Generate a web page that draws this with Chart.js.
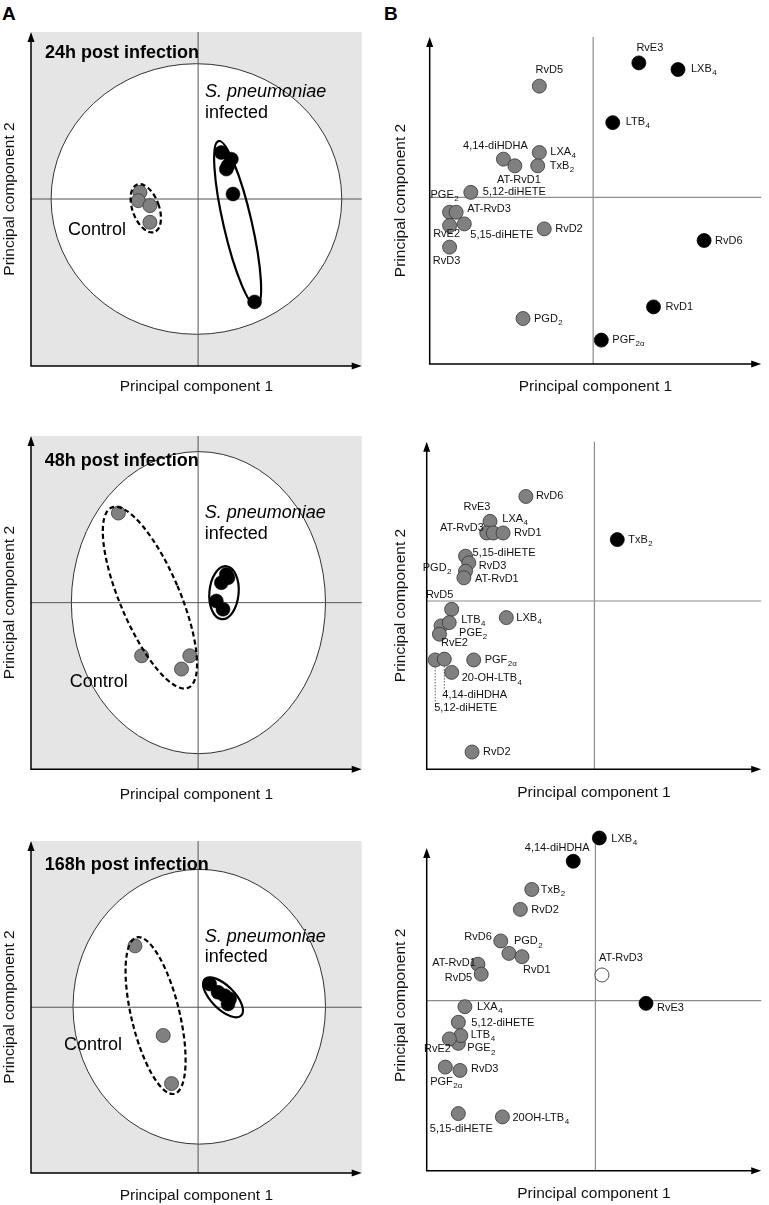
<!DOCTYPE html>
<html>
<head>
<meta charset="utf-8">
<title>PCA of lipid mediators after S. pneumoniae infection</title>
<script src="https://cdn.jsdelivr.net/npm/chart.js@4.4.1/dist/chart.umd.min.js"></script>
<style>
body{margin:0;background:#fff;}
#wrap{position:relative;width:769px;height:1205px;overflow:hidden;}
#wrap canvas{position:absolute;}
.tag{position:absolute;font:bold 19px "Liberation Sans",Arial,sans-serif;line-height:19px;color:#000;}
</style>
</head>
<body>
<div id="wrap">
<div class="tag" style="left:2px;top:4px">A</div>
<div class="tag" style="left:384px;top:4px">B</div>
<canvas id="a24" width="384" height="400" style="left:0;top:0"></canvas>
<canvas id="b24" width="385" height="400" style="left:384px;top:0"></canvas>
<canvas id="a48" width="384" height="410" style="left:0;top:400px"></canvas>
<canvas id="b48" width="385" height="410" style="left:384px;top:400px"></canvas>
<canvas id="a168" width="384" height="395" style="left:0;top:810px"></canvas>
<canvas id="b168" width="385" height="395" style="left:384px;top:810px"></canvas>
</div>
<script>
const FONT = '"Liberation Sans", Arial, Helvetica, sans-serif';

// ---- A: score plots, control vs infected mice ----
const a24CtrlX = [-0.35, -0.36, -0.29, -0.29];
const a24CtrlY = [0.04, -0.01, -0.04, -0.14];
const a24InfX = [0.14, 0.20, 0.18, 0.17, 0.21, 0.34];
const a24InfY = [0.28, 0.24, 0.20, 0.18, 0.03, -0.62];

const a48CtrlX = [-0.48, -0.34, -0.05, -0.10];
const a48CtrlY = [0.54, -0.32, -0.32, -0.40];
const a48InfX = [0.17, 0.18, 0.14, 0.11, 0.15];
const a48InfY = [0.17, 0.15, 0.12, 0.01, -0.04];

const a168CtrlX = [-0.38, -0.21, -0.16];
const a168CtrlY = [0.37, -0.17, -0.46];
const a168InfX = [0.07, 0.12, 0.16, 0.19, 0.18];
const a168InfY = [0.14, 0.09, 0.07, 0.05, 0.02];

// ---- B: loading plots of the mediators (grp 0 grey, 1 black, 2 open) ----
const b24Names = ['RvE3', 'LXB_4', 'RvD5', 'LTB_4', '4,14-diHDHA', 'AT-RvD1', 'LXA_4', 'TxB_2', '5,12-diHETE', 'PGE_2',
  'AT-RvD3', 'RvE2', '5,15-diHETE', 'RvD3', 'RvD2', 'RvD6', 'RvD1', 'PGD_2', 'PGF_2α'];
const b24X = [0.28, 0.52, -0.33, 0.12, -0.55, -0.48, -0.33, -0.34, -0.75, -0.88, -0.84, -0.88, -0.79, -0.88, -0.30, 0.68, 0.37, -0.43, 0.05];
const b24Y = [0.81, 0.77, 0.67, 0.45, 0.23, 0.19, 0.27, 0.19, 0.03, -0.09, -0.09, -0.17, -0.16, -0.30, -0.19, -0.26, -0.66, -0.73, -0.86];
const b24Grp = [1, 1, 0, 1, 0, 0, 0, 0, 0, 0, 0, 0, 0, 0, 0, 1, 1, 0, 1];

const b48Names = ['RvD6', 'RvE3', 'AT-RvD3', 'LXA_4', 'RvD1', 'TxB_2', '5,15-diHETE', 'RvD3', 'PGD_2', 'AT-RvD1',
  'RvD5', 'PGE_2', 'LTB_4', 'RvE2', 'LXB_4', '5,12-diHETE', '4,14-diHDHA', '20-OH-LTB_4', 'PGF_2α', 'RvD2'];
const b48X = [-0.42, -0.64, -0.66, -0.62, -0.56, 0.14, -0.79, -0.77, -0.79, -0.80, -0.875, -0.94, -0.89, -0.95, -0.54, -0.976, -0.92, -0.875, -0.74, -0.75];
const b48Y = [0.63, 0.48, 0.41, 0.41, 0.41, 0.37, 0.27, 0.23, 0.18, 0.14, -0.05, -0.15, -0.13, -0.20, -0.10, -0.355, -0.35, -0.43, -0.355, -0.91];
const b48Grp = [0, 0, 0, 0, 0, 1, 0, 0, 0, 0, 0, 0, 0, 0, 0, 0, 0, 0, 0, 0];

const b168Names = ['LXB_4', '4,14-diHDHA', 'TxB_2', 'RvD2', 'RvD6', 'PGD_2', 'RvD1', 'AT-RvD1', 'RvD5', 'AT-RvD3',
  'RvE3', 'LXA_4', '5,12-diHETE', 'PGE_2', 'LTB_4', 'RvE2', 'PGF_2α', 'RvD3', '5,15-diHETE', '20OH-LTB_4'];
const b168X = [0.024, -0.136, -0.39, -0.46, -0.58, -0.53, -0.45, -0.72, -0.70, 0.04, 0.31, -0.80, -0.84, -0.84, -0.825, -0.895, -0.92, -0.83, -0.84, -0.57];
const b168Y = [0.98, 0.84, 0.67, 0.55, 0.36, 0.285, 0.265, 0.22, 0.16, 0.155, -0.016, -0.036, -0.13, -0.257, -0.21, -0.23, -0.40, -0.42, -0.68, -0.70];
const b168Grp = [1, 1, 0, 0, 0, 0, 0, 0, 0, 2, 1, 0, 0, 0, 0, 0, 0, 0, 0, 0];

// label placement: [dx, dy, align, leader line]
const b24Lab = [[11,-15,'c'],[13,-1,'l'],[10,-16,'c'],[13,-1,'l'],[-8,-13,'c'],[4,14,'c'],[11,-1,'l'],[12,0,'l'],[12,0,'l'],[-5,-17,'c'],
  [11,-3,'l'],[-3,8,'c'],[6,11,'l'],[-3,14,'c'],[11,0,'l'],[11,0,'l'],[12,0,'l'],[11,0,'l'],[11,0,'l']];
const b48Lab = [[10,0,'l'],[-13,-14,'c'],[-3,-5,'r'],[9,-14,'l'],[11,0,'l'],[11,0,'l'],[7,-3,'l'],[10,3,'l'],[-14,-3,'r'],[11,1,'l'],
  [-12,-14,'c'],[18,7,'l'],[12,-3,'l'],[15,9,'c'],[10,0,'l'],[-1,48,'l',1],[-2,36,'l',1],[10,6,'l'],[11,0,'l'],[11,0,'l']];
const b168Lab = [[12,1,'l'],[-16,-13,'c'],[9,0,'l'],[11,1,'l'],[-9,-4,'r'],[5,-12,'l'],[1,13,'l'],[-2,-1,'r'],[-9,4,'r'],[19,-17,'c'],
  [11,5,'l'],[12,0,'l'],[13,1,'l'],[9,5,'l'],[10,-1,'l'],[-12,10,'c'],[1,15,'c'],[11,-1,'l'],[3,15,'c'],[10,1,'l']];

const GREY = '#808080';

function pts(xs, ys) {
  return xs.map((v, i) => ({x: v, y: ys[i]}));
}

function ellipsePath(ctx, sx, sy, e) {
  const px = sx.getPixelForValue(e.cx), py = sy.getPixelForValue(e.cy);
  const rx = Math.abs(sx.getPixelForValue(e.cx + e.rx) - px);
  const ry = Math.abs(sy.getPixelForValue(e.cy + e.ry) - py);
  ctx.beginPath();
  ctx.ellipse(px, py, rx, ry, (e.rot || 0) * Math.PI / 180, 0, Math.PI * 2);
}

function drawLabel(ctx, txt, x, y, align) {
  const parts = txt.split('_');
  const main = parts[0], sub = parts[1] || '';
  ctx.font = '11px ' + FONT;
  const w1 = ctx.measureText(main).width;
  ctx.font = '8px ' + FONT;
  const w2 = sub ? ctx.measureText(sub).width + 0.5 : 0;
  let x0 = x;
  if (align === 'c') x0 = x - (w1 + w2) / 2;
  if (align === 'r') x0 = x - w1 - w2;
  ctx.textAlign = 'left';
  ctx.textBaseline = 'middle';
  ctx.fillStyle = '#111';
  ctx.font = '11px ' + FONT;
  ctx.fillText(main, x0, y);
  if (sub) {
    ctx.font = '8px ' + FONT;
    ctx.fillText(sub, x0 + w1 + 0.5, y + 4);
  }
}

function figPlugin(cfg) {
  return {
    id: 'fig',
    beforeDatasetsDraw(chart) {
      const ctx = chart.ctx, a = chart.chartArea;
      const sx = chart.scales.x, sy = chart.scales.y;
      // arrow tip and crosshair top may sit below the chart area top
      const top = cfg.yTop !== undefined ? sy.getPixelForValue(cfg.yTop) : a.top;
      const crossTop = cfg.crossTop !== undefined ? sy.getPixelForValue(cfg.crossTop) : top;
      ctx.save();
      if (cfg.ring) {
        ctx.fillStyle = '#e5e5e5';
        ctx.fillRect(a.left, a.top, a.right - a.left, a.bottom - a.top);
        ellipsePath(ctx, sx, sy, cfg.ring);
        ctx.fillStyle = '#fff';
        ctx.fill();
        ctx.strokeStyle = '#333';
        ctx.lineWidth = 1;
        ctx.stroke();
      }
      const x0 = sx.getPixelForValue(0), y0 = sy.getPixelForValue(0);
      ctx.strokeStyle = cfg.cross;
      ctx.lineWidth = cfg.ring ? 1 : 1.2;
      ctx.beginPath();
      ctx.moveTo(x0, crossTop); ctx.lineTo(x0, a.bottom);
      ctx.moveTo(a.left, y0); ctx.lineTo(a.right, y0);
      ctx.stroke();
      // axes with arrow heads
      ctx.strokeStyle = '#000';
      ctx.fillStyle = '#000';
      ctx.lineWidth = 1.5;
      ctx.beginPath();
      ctx.moveTo(a.left, top + 8);
      ctx.lineTo(a.left, a.bottom);
      ctx.lineTo(a.right - 8, a.bottom);
      ctx.stroke();
      ctx.beginPath();
      ctx.moveTo(a.left, top);
      ctx.lineTo(a.left - 3.5, top + 10);
      ctx.lineTo(a.left + 3.5, top + 10);
      ctx.closePath();
      ctx.moveTo(a.right, a.bottom);
      ctx.lineTo(a.right - 10, a.bottom - 3.5);
      ctx.lineTo(a.right - 10, a.bottom + 3.5);
      ctx.closePath();
      ctx.fill();
      ctx.restore();
    },
    afterDatasetsDraw(chart) {
      const ctx = chart.ctx;
      const sx = chart.scales.x, sy = chart.scales.y;
      ctx.save();
      (cfg.groups || []).forEach(e => {
        ellipsePath(ctx, sx, sy, e);
        ctx.strokeStyle = '#000';
        ctx.lineWidth = 2.2;
        ctx.setLineDash(e.dash ? [5, 3] : []);
        ctx.stroke();
      });
      ctx.setLineDash([]);
      (cfg.notes || []).forEach(n => {
        ctx.font = n.font + ' ' + FONT;
        ctx.fillStyle = '#000';
        ctx.textAlign = 'left';
        ctx.textBaseline = 'middle';
        ctx.fillText(n.text, sx.getPixelForValue(n.x), sy.getPixelForValue(n.y));
      });
      if (cfg.names) {
        cfg.names.forEach((nm, i) => {
          const px = sx.getPixelForValue(cfg.xs[i]), py = sy.getPixelForValue(cfg.ys[i]);
          const l = cfg.labs[i];
          if (l[3]) {
            ctx.strokeStyle = '#333';
            ctx.lineWidth = 0.8;
            ctx.setLineDash([1.5, 1.5]);
            ctx.beginPath();
            ctx.moveTo(px, py + 7);
            ctx.lineTo(px, py + l[1] - 6);
            ctx.stroke();
            ctx.setLineDash([]);
          }
          drawLabel(ctx, nm, px + l[0], py + l[1], l[2]);
        });
      }
      ctx.restore();
    }
  };
}

function axis(lo, hi, text, pad, horizontal) {
  return {
    type: 'linear', min: lo, max: hi,
    grid: {display: false, drawTicks: false},
    border: {display: false},
    ticks: {display: false},
    title: {
      display: true, text: text, color: '#111',
      font: {family: FONT, size: 15.5, lineHeight: 1.2},
      padding: horizontal ? {top: pad, bottom: 0} : {top: 0, bottom: pad}
    }
  };
}

function makeChart(id, datasets, lim, pad, tpad, cfg) {
  return new Chart(document.getElementById(id), {
    type: 'scatter',
    data: {datasets: datasets},
    options: {
      responsive: false,
      animation: false,
      devicePixelRatio: 1,
      layout: {padding: pad},
      plugins: {legend: {display: false}, tooltip: {enabled: false}},
      scales: {
        x: axis(lim[0], lim[1], 'Principal component 1', tpad[0], true),
        y: axis(lim[2], lim[3], 'Principal component 2', tpad[1], false)
      }
    },
    plugins: [figPlugin(cfg)]
  });
}

function scoreSets(cx, cy, ix, iy) {
  return [
    {data: pts(ix, iy), pointRadius: 7, backgroundColor: '#000', borderColor: '#000', borderWidth: 0.5, clip: false},
    {data: pts(cx, cy), pointRadius: 7, backgroundColor: GREY, borderColor: '#3a3a3a', borderWidth: 0.8, clip: false}
  ];
}

function loadSets(xs, ys, grp) {
  const fills = [GREY, '#000', '#fff'];
  const edges = ['#333', '#000', '#222'];
  return [2, 1, 0].map(g => {
    const idx = grp.map((v, i) => v === g ? i : -1).filter(i => i >= 0);
    return {
      data: idx.map(i => ({x: xs[i], y: ys[i]})),
      pointRadius: 7, backgroundColor: fills[g], borderColor: edges[g], borderWidth: 0.8, clip: false
    };
  });
}

const A_LIM_X = [-1.006, 0.985];

makeChart('a24', scoreSets(a24CtrlX, a24CtrlY, a24InfX, a24InfY),
  [A_LIM_X[0], A_LIM_X[1], -1.006, 1.006], {left: 0, top: 32, right: 22.3, bottom: 3.7}, [11.7, 12.4], {
    cross: '#555',
    ring: {cx: -0.01, cy: 0, rx: 0.875, ry: 0.815},
    groups: [{cx: -0.315, cy: -0.056, rx: 0.08, ry: 0.152, rot: -20, dash: true},
             {cx: 0.238, cy: -0.148, rx: 0.085, ry: 0.51, rot: -13}],
    notes: [{text: '24h post infection', x: -0.922, y: 0.88, font: 'bold 18px'},
            {text: 'S. pneumoniae', x: 0.042, y: 0.645, font: 'italic 18px'},
            {text: 'infected', x: 0.042, y: 0.518, font: '18px'},
            {text: 'Control', x: -0.783, y: -0.187, font: '18px'}]
  });

makeChart('a48', scoreSets(a48CtrlX, a48CtrlY, a48InfX, a48InfY),
  [A_LIM_X[0], A_LIM_X[1], -1.004, 1.004], {left: 0, top: 36, right: 22.3, bottom: 5.7}, [16.4, 12.4], {
    cross: '#555',
    ring: {cx: 0.002, cy: 0, rx: 0.765, ry: 0.91},
    groups: [{cx: -0.29, cy: 0.03, rx: 0.18, ry: 0.59, rot: -23, dash: true},
             {cx: 0.156, cy: 0.06, rx: 0.088, ry: 0.16, rot: 5}],
    notes: [{text: '48h post infection', x: -0.923, y: 0.854, font: 'bold 18px'},
            {text: 'S. pneumoniae', x: 0.04, y: 0.54, font: 'italic 18px'},
            {text: 'infected', x: 0.04, y: 0.413, font: '18px'},
            {text: 'Control', x: -0.773, y: -0.478, font: '18px'}]
  });

makeChart('a168', scoreSets(a168CtrlX, a168CtrlY, a168InfX, a168InfY),
  [A_LIM_X[0], A_LIM_X[1], -0.999, 1.002], {left: 0, top: 31, right: 22.3, bottom: 0}, [13.4, 12.4], {
    cross: '#555',
    ring: {cx: 0.007, cy: 0.003, rx: 0.76, ry: 0.828},
    groups: [{cx: -0.256, cy: -0.05, rx: 0.145, ry: 0.485, rot: -13.5, dash: true},
             {cx: 0.15, cy: 0.06, rx: 0.155, ry: 0.07, rot: 45}],
    notes: [{text: '168h post infection', x: -0.923, y: 0.857, font: 'bold 18px'},
            {text: 'S. pneumoniae', x: 0.04, y: 0.425, font: 'italic 18px'},
            {text: 'infected', x: 0.04, y: 0.30, font: '18px'},
            {text: 'Control', x: -0.808, y: -0.227, font: '18px'}]
  });

makeChart('b24', loadSets(b24X, b24Y, b24Grp),
  [-1.002, 1.03, -1.004, 0.966], {left: 7.4, top: 37, right: 2, bottom: 3.7}, [13.7, 19.7],
  {cross: '#8c8c8c', names: b24Names, xs: b24X, ys: b24Y, labs: b24Lab});

makeChart('b48', loadSets(b48X, b48Y, b48Grp),
  [-1.028, 1.022, -1.014, 0.96], {left: 7.4, top: 41.7, right: 2, bottom: 8.2}, [13.9, 16.7],
  {cross: '#8c8c8c', names: b48Names, xs: b48X, ys: b48Y, labs: b48Lab});

// LXB4 sits above the arrow tip here, so the plot area reaches a little higher than the axis
makeChart('b168', loadSets(b168X, b168Y, b168Grp),
  [-1.034, 1.016, -1.024, 0.968], {left: 7.4, top: 30, right: 2, bottom: 1.7}, [14, 16.7],
  {cross: '#8c8c8c', yTop: 0.92, crossTop: 0.95, names: b168Names, xs: b168X, ys: b168Y, labs: b168Lab});
</script>
</body>
</html>
